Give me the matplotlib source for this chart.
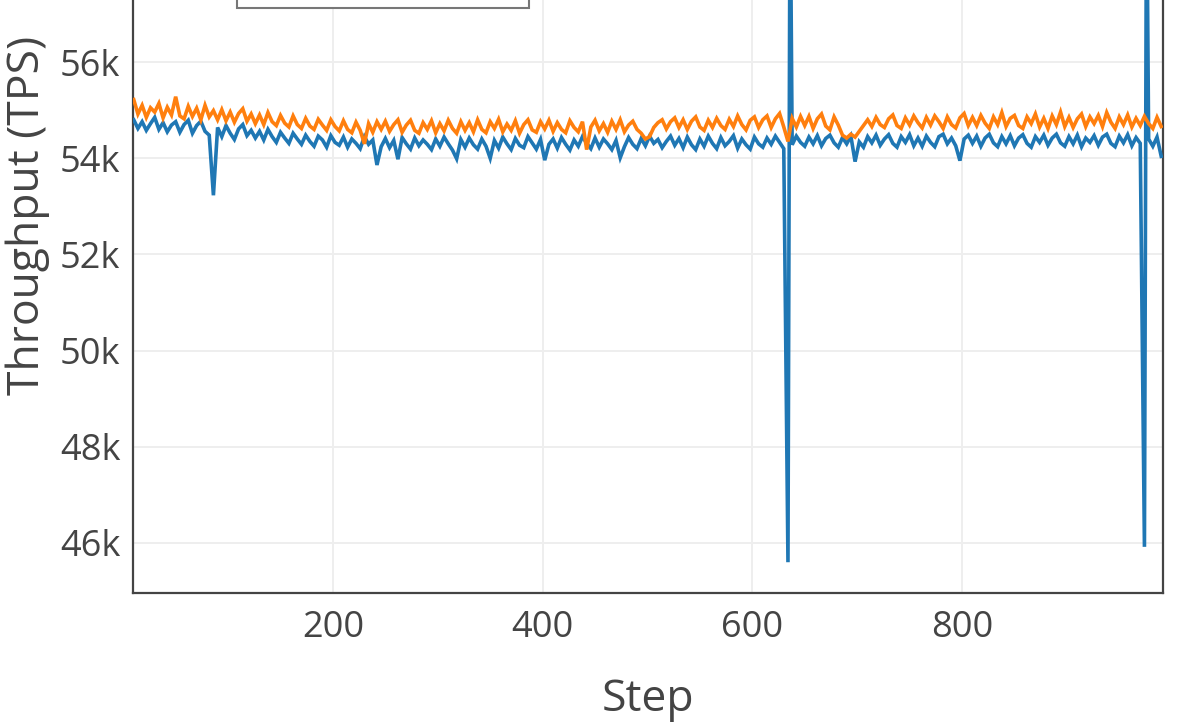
import numpy as np
import matplotlib
matplotlib.use("Agg")
import matplotlib.pyplot as plt
from matplotlib.patches import Rectangle

# ---------------- data ----------------
step_start = 10
step_every = 4

blue_tps = [
    54800, 54620, 54760, 54580, 54720, 54850, 54600, 54740, 54550, 54690,
    54760, 54540, 54700, 54790, 54520, 54680, 54770, 54560, 54480, 54640,
    54640, 54450, 54680, 54520, 54390, 54610, 54700, 54470, 54580, 54420,
    54560, 54380, 54600, 54450, 54330, 54540, 54420, 54310, 54520, 54400,
    54290, 54480, 54350, 54250, 54460, 54380, 54230, 54470, 54330, 54270,
    54440, 54230, 54400, 54310, 54200, 54450, 54290, 54380, 53860, 54240,
    54410, 54220, 54370, 53980, 54430, 54300, 54190, 54420, 54260, 54380,
    54290, 54180, 54400, 54250, 54440, 54300, 54170, 53990, 54390, 54230,
    54420, 54280, 54190, 54400, 54250, 54000, 54370, 54210, 54440, 54300,
    54180, 54410, 54270, 54220, 54450, 54320, 54190, 54390, 53960, 54290,
    54400, 54210, 54430, 54290, 54170, 54380, 54250, 54450, 54310, 54200,
    54420, 54230, 54400, 54300, 54180, 54370, 54010, 54240, 54430, 54290,
    54200, 54410, 54260, 54460, 54310, 54390, 54220, 54350, 54460, 54270,
    54410, 54220, 54440, 54280, 54180, 54400, 54250, 54460, 54310, 54200,
    54430, 54260, 54350, 54470, 54210, 54400, 54280, 54190, 54440, 54300,
    54230, 54420, 54290, 54460, 54330, 54200, 54380, 54280, 54460, 54330,
    54250, 54440, 54300, 54470, 54260, 54410, 54480, 54320, 54230, 54430,
    54300, 54460, 53930, 54340, 54230, 54450, 54320, 54480, 54270, 54400,
    54490, 54310, 54230, 54450, 54330, 54490, 54260, 54420, 54250, 54460,
    54330, 54240, 54450, 54500, 54300, 54420, 54260, 53950, 54400, 54480,
    54310, 54460, 54250, 54420, 54500, 54320, 54240, 54450, 54300, 54470,
    54260, 54420, 54490, 54310, 54230, 54450, 54330, 54480, 54270, 54420,
    54500, 54320, 54250, 54450, 54300, 54480, 54240, 54420, 54330, 54470,
    54270, 54440, 54500, 54310, 54240, 54460, 54320, 54490, 54260, 54430,
    54310, 54460, 54400, 54250, 54440, 54040,
]

orange_tps = [
    55220, 54920, 55100, 54850, 55050, 54960, 55140, 54840, 55060, 54900,
    55280, 54880, 54820, 55080, 54870, 55040, 54800, 55100, 54860, 54990,
    54800, 55010, 54780, 54960, 54750, 54930, 55030, 54770, 54920, 54720,
    54900, 54700, 54950, 54760, 54680, 54890, 54730, 54650, 54880, 54700,
    54620, 54830, 54670, 54600, 54810, 54690, 54580, 54800, 54660, 54570,
    54780, 54600, 54530, 54750, 54580, 54300, 54720, 54540, 54760, 54600,
    54770, 54560, 54700, 54800, 54540, 54690, 54790, 54580, 54520, 54740,
    54600, 54780, 54530, 54720, 54570, 54790, 54620, 54520, 54760, 54580,
    54740, 54550, 54800, 54600, 54530, 54760, 54620, 54810, 54550, 54710,
    54580, 54780, 54520, 54700, 54800, 54590, 54540, 54760, 54610, 54790,
    54560, 54740, 54600, 54530, 54780, 54640, 54550, 54760, 54180, 54650,
    54790, 54570, 54720, 54540, 54770, 54600, 54800, 54550, 54690, 54770,
    54600, 54520, 54400, 54450, 54640, 54740, 54800, 54610, 54760, 54840,
    54640, 54800, 54600, 54770, 54860, 54650, 54580, 54790, 54640, 54830,
    54680, 54600, 54810, 54660, 54880, 54700, 54590, 54790, 54860, 54640,
    54800, 54880, 54640, 54820, 54930, 54650, 54350, 54830, 54650, 54870,
    54680, 54870, 54620, 54820, 54920, 54670, 54590, 54860, 54690, 54480,
    54420, 54500, 54440, 54560, 54680, 54800, 54660, 54850, 54700, 54640,
    54820, 54900, 54680, 54620, 54840, 54690, 54880, 54740, 54630, 54850,
    54690, 54880, 54760, 54620, 54860, 54700, 54630, 54840, 54930, 54680,
    54850, 54680, 54890, 54730, 54620, 54860, 54700, 54950, 54660, 54830,
    54890, 54680, 54620, 54860, 54720, 54920, 54650, 54830, 54620, 54880,
    54700, 54960, 54660, 54850, 54640, 54820, 54920, 54660, 54860, 54720,
    54890, 54660, 54950, 54750, 54620, 54860, 54700, 54900, 54650, 54830,
    54680, 54870, 54720, 54620, 54850, 54660,
]

# isolated outliers of the blue series
blue_spike_steps = [86, 634, 636, 974, 976]
blue_spike_tps = [53230, 45600, 60050, 45920, 60050]

series_colors = ["#1f77b4", "#ff7f0e"]

x_ticks = [200, 400, 600, 800]
y_ticks = [46000, 48000, 50000, 52000, 54000, 56000]
y_tick_labels = ["46k", "48k", "50k", "52k", "54k", "56k"]
x_range = (9.3, 991.7)
y_range = (44960, 60680)

# ---------------- build series ----------------
n = min(len(blue_tps), len(orange_tps))
steps = step_start + step_every * np.arange(n)
blue_map = dict(zip(steps.tolist(), blue_tps[:n]))
for s, v in zip(blue_spike_steps, blue_spike_tps):
    blue_map[s] = v
blue_x = np.array(sorted(blue_map))
blue_y = np.array([blue_map[s] for s in blue_x])
orange_x = steps
orange_y = np.array(orange_tps[:n])

# ---------------- figure ----------------
plt.rcParams['font.family'] = ['Open Sans', 'DejaVu Sans']
W, H = 1196, 727
fig = plt.figure(figsize=(W / 100, H / 100), dpi=100)
fig.patch.set_facecolor("white")

left_px, right_px, bottom_px, top_px = 133, 1163, 593, -163
ax = fig.add_axes([left_px / W, 1 - bottom_px / H,
                   (right_px - left_px) / W, (bottom_px - top_px) / H])
ax.set_facecolor("white")

ax.plot(blue_x, blue_y, color=series_colors[0], lw=2.6,
        solid_joinstyle="miter", zorder=3)
ax.plot(orange_x, orange_y, color=series_colors[1], lw=2.6,
        solid_joinstyle="miter", zorder=4)

ax.set_xlim(*x_range)
ax.set_ylim(*y_range)
ax.set_xticks(x_ticks)
ax.set_xticklabels([str(t) for t in x_ticks])
ax.set_yticks(y_ticks)
ax.set_yticklabels(y_tick_labels)

ax.grid(True, color="#eeeeee", lw=1.4, zorder=0)
ax.set_axisbelow(True)
ax.tick_params(axis="both", length=0, labelsize=26, labelcolor="#444444")
ax.tick_params(axis="x", pad=12)
ax.tick_params(axis="y", pad=9)

for sp in ax.spines.values():
    sp.set_color("#444444")
    sp.set_linewidth(1.6)

ax.set_xlabel("Step", fontsize=32, color="#444444")
ax.set_ylabel("Throughput (TPS)", fontsize=32, color="#444444")
ax.xaxis.set_label_coords(0.5, (bottom_px - 678) / (bottom_px - top_px))
ax.yaxis.set_label_coords((50 - left_px) / (right_px - left_px), 0.5)

# legend frame (its entries lie above the visible area of the picture)
legend_box = Rectangle((237 / W, 1 - 8 / H), 292 / W, 0.3,
                       transform=fig.transFigure, facecolor="white",
                       edgecolor="#777777", lw=1.5, clip_on=False, zorder=10)
fig.add_artist(legend_box)

fig.savefig("out.png", dpi=100, facecolor="white")
